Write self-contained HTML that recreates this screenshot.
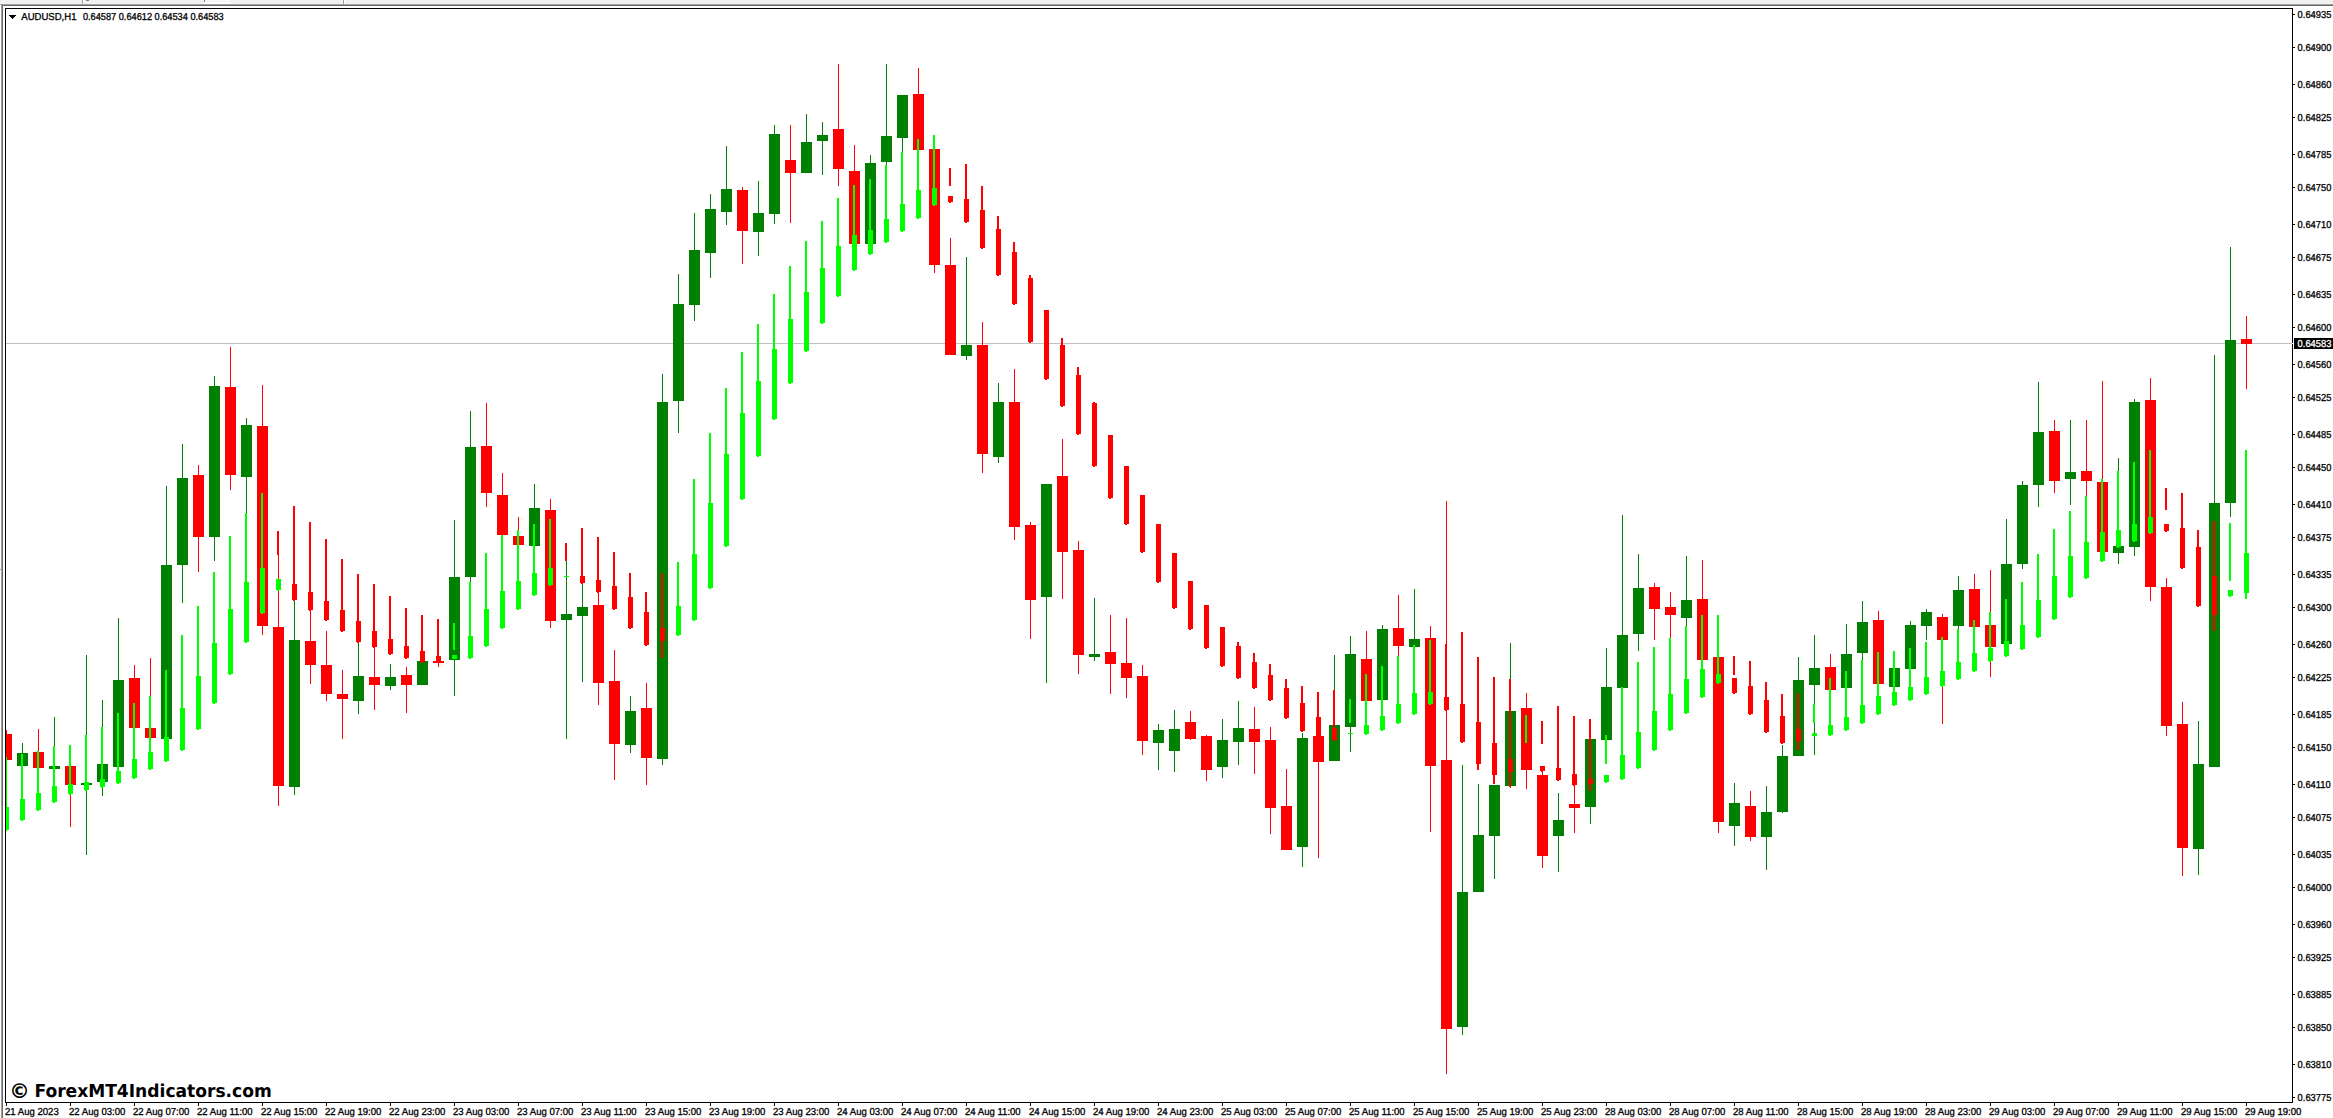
<!DOCTYPE html>
<html lang="en"><head><meta charset="utf-8"><title>AUDUSD,H1</title>
<style>html,body{margin:0;padding:0;background:#fff;overflow:hidden}body{width:2333px;height:1118px;position:relative}svg{position:absolute;left:0;top:0;display:block}text{font-family:"Liberation Sans",sans-serif;font-size:10.1px;fill:#000;stroke:#000;stroke-width:0.3px;text-rendering:geometricPrecision}.wm{font-family:"DejaVu Sans","Liberation Sans",sans-serif;font-weight:bold;font-size:17.8px;stroke:none}</style></head><body>
<svg width="2333" height="1118" viewBox="0 0 2333 1118" shape-rendering="crispEdges">
<rect x="0" y="0" width="2333" height="3" fill="#f0f0f0"/>
<rect x="0" y="3" width="2333" height="1" fill="#f5f5f5"/>
<rect x="0" y="4" width="2333" height="1" fill="#a0a0a0"/>
<rect x="2" y="5" width="2331" height="1" fill="#696969"/>
<rect x="1" y="4" width="1" height="1114" fill="#a0a0a0"/>
<rect x="2" y="5" width="1" height="1113" fill="#696969"/>
<rect x="82" y="0" width="1" height="4" fill="#a0a0a0"/>
<rect x="83" y="0" width="1" height="4" fill="#ffffff"/>
<rect x="343" y="0" width="1" height="4" fill="#a0a0a0"/>
<rect x="344" y="0" width="1" height="4" fill="#ffffff"/>
<rect x="86" y="0" width="3" height="1" fill="#808080"/>
<rect x="0" y="569" width="1" height="1" fill="#a0a0a0"/>
<rect x="204" y="0" width="1" height="2" fill="#808080"/>
<rect x="205" y="0" width="25" height="2" fill="#f8f8f8"/>
<rect x="204" y="2" width="26" height="2" fill="#fdfdfd"/>
<defs><clipPath id="cp"><rect x="6" y="9" width="2286" height="1093"/></clipPath></defs>
<g clip-path="url(#cp)">
<rect x="6" y="343" width="2286" height="1" fill="#c0c0c0"/>
<g id="candles">
<rect x="6" y="730" width="1" height="30" fill="#ff0000"/>
<rect x="1" y="734" width="11" height="26" fill="#ff0000"/>
<rect x="22" y="743" width="1" height="23" fill="#008000"/>
<rect x="17" y="753" width="11" height="13" fill="#008000"/>
<rect x="38" y="729" width="1" height="39" fill="#ff0000"/>
<rect x="33" y="752" width="11" height="16" fill="#ff0000"/>
<rect x="54" y="717" width="1" height="52" fill="#008000"/>
<rect x="49" y="766" width="11" height="3" fill="#008000"/>
<rect x="70" y="766" width="1" height="61" fill="#ff0000"/>
<rect x="65" y="766" width="11" height="19" fill="#ff0000"/>
<rect x="86" y="655" width="1" height="200" fill="#008000"/>
<rect x="81" y="783" width="11" height="2" fill="#008000"/>
<rect x="102" y="700" width="1" height="96" fill="#008000"/>
<rect x="97" y="764" width="11" height="18" fill="#008000"/>
<rect x="118" y="618" width="1" height="149" fill="#008000"/>
<rect x="113" y="680" width="11" height="87" fill="#008000"/>
<rect x="134" y="665" width="1" height="63" fill="#ff0000"/>
<rect x="129" y="678" width="11" height="50" fill="#ff0000"/>
<rect x="150" y="658" width="1" height="80" fill="#ff0000"/>
<rect x="145" y="728" width="11" height="10" fill="#ff0000"/>
<rect x="166" y="486" width="1" height="253" fill="#008000"/>
<rect x="161" y="565" width="11" height="174" fill="#008000"/>
<rect x="182" y="444" width="1" height="159" fill="#008000"/>
<rect x="177" y="478" width="11" height="87" fill="#008000"/>
<rect x="198" y="465" width="1" height="107" fill="#ff0000"/>
<rect x="193" y="475" width="11" height="62" fill="#ff0000"/>
<rect x="214" y="376" width="1" height="185" fill="#008000"/>
<rect x="209" y="386" width="11" height="151" fill="#008000"/>
<rect x="230" y="347" width="1" height="143" fill="#ff0000"/>
<rect x="225" y="387" width="11" height="88" fill="#ff0000"/>
<rect x="246" y="418" width="1" height="95" fill="#008000"/>
<rect x="241" y="425" width="11" height="52" fill="#008000"/>
<rect x="262" y="385" width="1" height="250" fill="#ff0000"/>
<rect x="257" y="426" width="11" height="200" fill="#ff0000"/>
<rect x="278" y="555" width="1" height="251" fill="#ff0000"/>
<rect x="273" y="627" width="11" height="159" fill="#ff0000"/>
<rect x="294" y="600" width="1" height="195" fill="#008000"/>
<rect x="289" y="640" width="11" height="147" fill="#008000"/>
<rect x="310" y="611" width="1" height="73" fill="#ff0000"/>
<rect x="305" y="641" width="11" height="24" fill="#ff0000"/>
<rect x="326" y="631" width="1" height="70" fill="#ff0000"/>
<rect x="321" y="665" width="11" height="29" fill="#ff0000"/>
<rect x="342" y="670" width="1" height="69" fill="#ff0000"/>
<rect x="337" y="694" width="11" height="5" fill="#ff0000"/>
<rect x="358" y="643" width="1" height="71" fill="#008000"/>
<rect x="353" y="676" width="11" height="25" fill="#008000"/>
<rect x="374" y="648" width="1" height="62" fill="#ff0000"/>
<rect x="369" y="677" width="11" height="8" fill="#ff0000"/>
<rect x="390" y="664" width="1" height="26" fill="#008000"/>
<rect x="385" y="677" width="11" height="9" fill="#008000"/>
<rect x="406" y="667" width="1" height="46" fill="#ff0000"/>
<rect x="401" y="675" width="11" height="10" fill="#ff0000"/>
<rect x="422" y="661" width="1" height="24" fill="#008000"/>
<rect x="417" y="661" width="11" height="24" fill="#008000"/>
<rect x="438" y="661" width="1" height="6" fill="#ff0000"/>
<rect x="433" y="661" width="11" height="2" fill="#ff0000"/>
<rect x="454" y="520" width="1" height="176" fill="#008000"/>
<rect x="449" y="577" width="11" height="83" fill="#008000"/>
<rect x="470" y="411" width="1" height="171" fill="#008000"/>
<rect x="465" y="447" width="11" height="130" fill="#008000"/>
<rect x="486" y="403" width="1" height="104" fill="#ff0000"/>
<rect x="481" y="446" width="11" height="47" fill="#ff0000"/>
<rect x="502" y="473" width="1" height="62" fill="#ff0000"/>
<rect x="497" y="495" width="11" height="40" fill="#ff0000"/>
<rect x="518" y="517" width="1" height="28" fill="#ff0000"/>
<rect x="513" y="536" width="11" height="9" fill="#ff0000"/>
<rect x="534" y="484" width="1" height="62" fill="#008000"/>
<rect x="529" y="508" width="11" height="38" fill="#008000"/>
<rect x="550" y="499" width="1" height="129" fill="#ff0000"/>
<rect x="545" y="510" width="11" height="111" fill="#ff0000"/>
<rect x="566" y="561" width="1" height="178" fill="#008000"/>
<rect x="561" y="614" width="11" height="6" fill="#008000"/>
<rect x="582" y="584" width="1" height="98" fill="#008000"/>
<rect x="577" y="607" width="11" height="9" fill="#008000"/>
<rect x="598" y="593" width="1" height="112" fill="#ff0000"/>
<rect x="593" y="605" width="11" height="78" fill="#ff0000"/>
<rect x="614" y="650" width="1" height="130" fill="#ff0000"/>
<rect x="609" y="681" width="11" height="63" fill="#ff0000"/>
<rect x="630" y="696" width="1" height="57" fill="#008000"/>
<rect x="625" y="711" width="11" height="34" fill="#008000"/>
<rect x="646" y="683" width="1" height="102" fill="#ff0000"/>
<rect x="641" y="708" width="11" height="50" fill="#ff0000"/>
<rect x="662" y="374" width="1" height="391" fill="#008000"/>
<rect x="657" y="402" width="11" height="357" fill="#008000"/>
<rect x="678" y="274" width="1" height="159" fill="#008000"/>
<rect x="673" y="304" width="11" height="97" fill="#008000"/>
<rect x="694" y="213" width="1" height="108" fill="#008000"/>
<rect x="689" y="250" width="11" height="55" fill="#008000"/>
<rect x="710" y="194" width="1" height="84" fill="#008000"/>
<rect x="705" y="209" width="11" height="44" fill="#008000"/>
<rect x="726" y="146" width="1" height="79" fill="#008000"/>
<rect x="721" y="189" width="11" height="23" fill="#008000"/>
<rect x="742" y="187" width="1" height="77" fill="#ff0000"/>
<rect x="737" y="190" width="11" height="41" fill="#ff0000"/>
<rect x="758" y="181" width="1" height="75" fill="#008000"/>
<rect x="753" y="213" width="11" height="19" fill="#008000"/>
<rect x="774" y="125" width="1" height="99" fill="#008000"/>
<rect x="769" y="134" width="11" height="80" fill="#008000"/>
<rect x="790" y="125" width="1" height="98" fill="#ff0000"/>
<rect x="785" y="160" width="11" height="13" fill="#ff0000"/>
<rect x="806" y="114" width="1" height="59" fill="#008000"/>
<rect x="801" y="142" width="11" height="31" fill="#008000"/>
<rect x="822" y="122" width="1" height="53" fill="#008000"/>
<rect x="817" y="135" width="11" height="6" fill="#008000"/>
<rect x="838" y="64" width="1" height="122" fill="#ff0000"/>
<rect x="833" y="129" width="11" height="40" fill="#ff0000"/>
<rect x="854" y="145" width="1" height="99" fill="#ff0000"/>
<rect x="849" y="171" width="11" height="73" fill="#ff0000"/>
<rect x="870" y="155" width="1" height="89" fill="#008000"/>
<rect x="865" y="163" width="11" height="81" fill="#008000"/>
<rect x="886" y="64" width="1" height="101" fill="#008000"/>
<rect x="881" y="136" width="11" height="26" fill="#008000"/>
<rect x="902" y="95" width="1" height="57" fill="#008000"/>
<rect x="897" y="95" width="11" height="43" fill="#008000"/>
<rect x="918" y="68" width="1" height="82" fill="#ff0000"/>
<rect x="913" y="94" width="11" height="56" fill="#ff0000"/>
<rect x="934" y="149" width="1" height="124" fill="#ff0000"/>
<rect x="929" y="149" width="11" height="116" fill="#ff0000"/>
<rect x="950" y="238" width="1" height="117" fill="#ff0000"/>
<rect x="945" y="265" width="11" height="90" fill="#ff0000"/>
<rect x="966" y="257" width="1" height="103" fill="#008000"/>
<rect x="961" y="345" width="11" height="11" fill="#008000"/>
<rect x="982" y="322" width="1" height="151" fill="#ff0000"/>
<rect x="977" y="345" width="11" height="109" fill="#ff0000"/>
<rect x="998" y="383" width="1" height="80" fill="#008000"/>
<rect x="993" y="402" width="11" height="55" fill="#008000"/>
<rect x="1014" y="369" width="1" height="171" fill="#ff0000"/>
<rect x="1009" y="402" width="11" height="125" fill="#ff0000"/>
<rect x="1030" y="522" width="1" height="117" fill="#ff0000"/>
<rect x="1025" y="525" width="11" height="75" fill="#ff0000"/>
<rect x="1046" y="484" width="1" height="199" fill="#008000"/>
<rect x="1041" y="484" width="11" height="113" fill="#008000"/>
<rect x="1062" y="439" width="1" height="160" fill="#ff0000"/>
<rect x="1057" y="476" width="11" height="76" fill="#ff0000"/>
<rect x="1078" y="541" width="1" height="133" fill="#ff0000"/>
<rect x="1073" y="550" width="11" height="105" fill="#ff0000"/>
<rect x="1094" y="598" width="1" height="63" fill="#008000"/>
<rect x="1089" y="654" width="11" height="3" fill="#008000"/>
<rect x="1110" y="615" width="1" height="79" fill="#ff0000"/>
<rect x="1105" y="652" width="11" height="12" fill="#ff0000"/>
<rect x="1126" y="618" width="1" height="80" fill="#ff0000"/>
<rect x="1121" y="663" width="11" height="15" fill="#ff0000"/>
<rect x="1142" y="665" width="1" height="90" fill="#ff0000"/>
<rect x="1137" y="676" width="11" height="65" fill="#ff0000"/>
<rect x="1158" y="724" width="1" height="46" fill="#008000"/>
<rect x="1153" y="730" width="11" height="13" fill="#008000"/>
<rect x="1174" y="710" width="1" height="62" fill="#008000"/>
<rect x="1169" y="729" width="11" height="22" fill="#008000"/>
<rect x="1190" y="711" width="1" height="29" fill="#ff0000"/>
<rect x="1185" y="722" width="11" height="17" fill="#ff0000"/>
<rect x="1206" y="735" width="1" height="46" fill="#ff0000"/>
<rect x="1201" y="736" width="11" height="34" fill="#ff0000"/>
<rect x="1222" y="719" width="1" height="59" fill="#008000"/>
<rect x="1217" y="740" width="11" height="27" fill="#008000"/>
<rect x="1238" y="701" width="1" height="64" fill="#008000"/>
<rect x="1233" y="728" width="11" height="14" fill="#008000"/>
<rect x="1254" y="707" width="1" height="67" fill="#ff0000"/>
<rect x="1249" y="729" width="11" height="13" fill="#ff0000"/>
<rect x="1270" y="727" width="1" height="107" fill="#ff0000"/>
<rect x="1265" y="740" width="11" height="68" fill="#ff0000"/>
<rect x="1286" y="769" width="1" height="81" fill="#ff0000"/>
<rect x="1281" y="806" width="11" height="44" fill="#ff0000"/>
<rect x="1302" y="733" width="1" height="134" fill="#008000"/>
<rect x="1297" y="738" width="11" height="109" fill="#008000"/>
<rect x="1318" y="736" width="1" height="122" fill="#ff0000"/>
<rect x="1313" y="736" width="11" height="26" fill="#ff0000"/>
<rect x="1334" y="655" width="1" height="106" fill="#008000"/>
<rect x="1329" y="725" width="11" height="36" fill="#008000"/>
<rect x="1350" y="636" width="1" height="116" fill="#008000"/>
<rect x="1345" y="654" width="11" height="73" fill="#008000"/>
<rect x="1366" y="631" width="1" height="70" fill="#ff0000"/>
<rect x="1361" y="659" width="11" height="42" fill="#ff0000"/>
<rect x="1382" y="625" width="1" height="75" fill="#008000"/>
<rect x="1377" y="629" width="11" height="71" fill="#008000"/>
<rect x="1398" y="595" width="1" height="61" fill="#ff0000"/>
<rect x="1393" y="628" width="11" height="18" fill="#ff0000"/>
<rect x="1414" y="589" width="1" height="58" fill="#008000"/>
<rect x="1409" y="639" width="11" height="8" fill="#008000"/>
<rect x="1430" y="626" width="1" height="206" fill="#ff0000"/>
<rect x="1425" y="638" width="11" height="128" fill="#ff0000"/>
<rect x="1446" y="501" width="1" height="573" fill="#ff0000"/>
<rect x="1441" y="760" width="11" height="269" fill="#ff0000"/>
<rect x="1462" y="765" width="1" height="270" fill="#008000"/>
<rect x="1457" y="892" width="11" height="135" fill="#008000"/>
<rect x="1478" y="784" width="1" height="108" fill="#008000"/>
<rect x="1473" y="835" width="11" height="57" fill="#008000"/>
<rect x="1494" y="785" width="1" height="94" fill="#008000"/>
<rect x="1489" y="785" width="11" height="51" fill="#008000"/>
<rect x="1510" y="643" width="1" height="145" fill="#008000"/>
<rect x="1505" y="711" width="11" height="75" fill="#008000"/>
<rect x="1526" y="693" width="1" height="96" fill="#ff0000"/>
<rect x="1521" y="708" width="11" height="62" fill="#ff0000"/>
<rect x="1542" y="772" width="1" height="96" fill="#ff0000"/>
<rect x="1537" y="775" width="11" height="81" fill="#ff0000"/>
<rect x="1558" y="793" width="1" height="79" fill="#008000"/>
<rect x="1553" y="820" width="11" height="16" fill="#008000"/>
<rect x="1574" y="786" width="1" height="47" fill="#ff0000"/>
<rect x="1569" y="804" width="11" height="4" fill="#ff0000"/>
<rect x="1590" y="739" width="1" height="85" fill="#008000"/>
<rect x="1585" y="739" width="11" height="68" fill="#008000"/>
<rect x="1606" y="648" width="1" height="92" fill="#008000"/>
<rect x="1601" y="687" width="11" height="53" fill="#008000"/>
<rect x="1622" y="515" width="1" height="173" fill="#008000"/>
<rect x="1617" y="635" width="11" height="53" fill="#008000"/>
<rect x="1638" y="554" width="1" height="97" fill="#008000"/>
<rect x="1633" y="588" width="11" height="46" fill="#008000"/>
<rect x="1654" y="583" width="1" height="57" fill="#ff0000"/>
<rect x="1649" y="587" width="11" height="22" fill="#ff0000"/>
<rect x="1670" y="592" width="1" height="46" fill="#ff0000"/>
<rect x="1665" y="607" width="11" height="8" fill="#ff0000"/>
<rect x="1686" y="556" width="1" height="70" fill="#008000"/>
<rect x="1681" y="600" width="11" height="18" fill="#008000"/>
<rect x="1702" y="560" width="1" height="100" fill="#ff0000"/>
<rect x="1697" y="599" width="11" height="61" fill="#ff0000"/>
<rect x="1718" y="657" width="1" height="176" fill="#ff0000"/>
<rect x="1713" y="657" width="11" height="165" fill="#ff0000"/>
<rect x="1734" y="783" width="1" height="63" fill="#008000"/>
<rect x="1729" y="803" width="11" height="23" fill="#008000"/>
<rect x="1750" y="791" width="1" height="50" fill="#ff0000"/>
<rect x="1745" y="806" width="11" height="31" fill="#ff0000"/>
<rect x="1766" y="786" width="1" height="84" fill="#008000"/>
<rect x="1761" y="812" width="11" height="25" fill="#008000"/>
<rect x="1782" y="745" width="1" height="68" fill="#008000"/>
<rect x="1777" y="756" width="11" height="56" fill="#008000"/>
<rect x="1798" y="657" width="1" height="99" fill="#008000"/>
<rect x="1793" y="680" width="11" height="76" fill="#008000"/>
<rect x="1814" y="635" width="1" height="120" fill="#008000"/>
<rect x="1809" y="668" width="11" height="17" fill="#008000"/>
<rect x="1830" y="654" width="1" height="36" fill="#ff0000"/>
<rect x="1825" y="667" width="11" height="23" fill="#ff0000"/>
<rect x="1846" y="624" width="1" height="64" fill="#008000"/>
<rect x="1841" y="654" width="11" height="34" fill="#008000"/>
<rect x="1862" y="601" width="1" height="59" fill="#008000"/>
<rect x="1857" y="622" width="11" height="31" fill="#008000"/>
<rect x="1878" y="611" width="1" height="73" fill="#ff0000"/>
<rect x="1873" y="620" width="11" height="64" fill="#ff0000"/>
<rect x="1894" y="668" width="1" height="19" fill="#008000"/>
<rect x="1889" y="668" width="11" height="19" fill="#008000"/>
<rect x="1910" y="621" width="1" height="48" fill="#008000"/>
<rect x="1905" y="625" width="11" height="44" fill="#008000"/>
<rect x="1926" y="609" width="1" height="31" fill="#008000"/>
<rect x="1921" y="612" width="11" height="14" fill="#008000"/>
<rect x="1942" y="614" width="1" height="110" fill="#ff0000"/>
<rect x="1937" y="617" width="11" height="23" fill="#ff0000"/>
<rect x="1958" y="576" width="1" height="53" fill="#008000"/>
<rect x="1953" y="590" width="11" height="36" fill="#008000"/>
<rect x="1974" y="574" width="1" height="53" fill="#ff0000"/>
<rect x="1969" y="589" width="11" height="38" fill="#ff0000"/>
<rect x="1990" y="570" width="1" height="107" fill="#ff0000"/>
<rect x="1985" y="625" width="11" height="22" fill="#ff0000"/>
<rect x="2006" y="519" width="1" height="125" fill="#008000"/>
<rect x="2001" y="564" width="11" height="80" fill="#008000"/>
<rect x="2022" y="481" width="1" height="88" fill="#008000"/>
<rect x="2017" y="485" width="11" height="79" fill="#008000"/>
<rect x="2038" y="382" width="1" height="125" fill="#008000"/>
<rect x="2033" y="432" width="11" height="53" fill="#008000"/>
<rect x="2054" y="420" width="1" height="73" fill="#ff0000"/>
<rect x="2049" y="431" width="11" height="50" fill="#ff0000"/>
<rect x="2070" y="420" width="1" height="85" fill="#008000"/>
<rect x="2065" y="472" width="11" height="7" fill="#008000"/>
<rect x="2086" y="420" width="1" height="76" fill="#ff0000"/>
<rect x="2081" y="471" width="11" height="10" fill="#ff0000"/>
<rect x="2102" y="381" width="1" height="171" fill="#ff0000"/>
<rect x="2097" y="482" width="11" height="70" fill="#ff0000"/>
<rect x="2118" y="458" width="1" height="106" fill="#008000"/>
<rect x="2113" y="546" width="11" height="7" fill="#008000"/>
<rect x="2134" y="399" width="1" height="157" fill="#008000"/>
<rect x="2129" y="402" width="11" height="145" fill="#008000"/>
<rect x="2150" y="378" width="1" height="223" fill="#ff0000"/>
<rect x="2145" y="400" width="11" height="187" fill="#ff0000"/>
<rect x="2166" y="578" width="1" height="158" fill="#ff0000"/>
<rect x="2161" y="587" width="11" height="139" fill="#ff0000"/>
<rect x="2182" y="702" width="1" height="174" fill="#ff0000"/>
<rect x="2177" y="724" width="11" height="124" fill="#ff0000"/>
<rect x="2198" y="721" width="1" height="154" fill="#008000"/>
<rect x="2193" y="764" width="11" height="85" fill="#008000"/>
<rect x="2214" y="355" width="1" height="412" fill="#008000"/>
<rect x="2209" y="503" width="11" height="264" fill="#008000"/>
<rect x="2230" y="247" width="1" height="270" fill="#008000"/>
<rect x="2225" y="340" width="11" height="163" fill="#008000"/>
<rect x="2246" y="316" width="1" height="73" fill="#ff0000"/>
<rect x="2241" y="339" width="11" height="5" fill="#ff0000"/>
</g>
<g id="ind">
<rect x="5" y="757" width="2" height="50" fill="#00ff00"/>
<rect x="4" y="807" width="5" height="23" fill="#00ff00"/>
<rect x="5" y="830" width="2" height="1" fill="#00ff00"/>
<rect x="21" y="754" width="2" height="45" fill="#00ff00"/>
<rect x="20" y="799" width="5" height="21" fill="#00ff00"/>
<rect x="21" y="820" width="2" height="1" fill="#00ff00"/>
<rect x="37" y="751" width="2" height="42" fill="#00ff00"/>
<rect x="36" y="793" width="5" height="17" fill="#00ff00"/>
<rect x="37" y="810" width="2" height="1" fill="#00ff00"/>
<rect x="53" y="746" width="2" height="40" fill="#00ff00"/>
<rect x="52" y="786" width="5" height="16" fill="#00ff00"/>
<rect x="53" y="802" width="2" height="1" fill="#00ff00"/>
<rect x="69" y="745" width="2" height="39" fill="#00ff00"/>
<rect x="68" y="784" width="5" height="10" fill="#00ff00"/>
<rect x="69" y="794" width="2" height="1" fill="#00ff00"/>
<rect x="85" y="735" width="2" height="47" fill="#00ff00"/>
<rect x="84" y="782" width="5" height="8" fill="#00ff00"/>
<rect x="85" y="790" width="2" height="1" fill="#00ff00"/>
<rect x="101" y="727" width="2" height="52" fill="#00ff00"/>
<rect x="100" y="779" width="5" height="8" fill="#00ff00"/>
<rect x="101" y="787" width="2" height="1" fill="#00ff00"/>
<rect x="117" y="713" width="2" height="58" fill="#00ff00"/>
<rect x="116" y="771" width="5" height="12" fill="#00ff00"/>
<rect x="117" y="783" width="2" height="1" fill="#00ff00"/>
<rect x="133" y="703" width="2" height="56" fill="#00ff00"/>
<rect x="132" y="759" width="5" height="19" fill="#00ff00"/>
<rect x="133" y="778" width="2" height="1" fill="#00ff00"/>
<rect x="149" y="696" width="2" height="56" fill="#00ff00"/>
<rect x="148" y="752" width="5" height="17" fill="#00ff00"/>
<rect x="149" y="769" width="2" height="1" fill="#00ff00"/>
<rect x="165" y="670" width="2" height="67" fill="#00ff00"/>
<rect x="164" y="737" width="5" height="24" fill="#00ff00"/>
<rect x="165" y="761" width="2" height="1" fill="#00ff00"/>
<rect x="181" y="635" width="2" height="73" fill="#00ff00"/>
<rect x="180" y="708" width="5" height="42" fill="#00ff00"/>
<rect x="181" y="750" width="2" height="1" fill="#00ff00"/>
<rect x="197" y="606" width="2" height="70" fill="#00ff00"/>
<rect x="196" y="676" width="5" height="53" fill="#00ff00"/>
<rect x="197" y="729" width="2" height="1" fill="#00ff00"/>
<rect x="213" y="572" width="2" height="71" fill="#00ff00"/>
<rect x="212" y="643" width="5" height="60" fill="#00ff00"/>
<rect x="213" y="703" width="2" height="1" fill="#00ff00"/>
<rect x="229" y="536" width="2" height="73" fill="#00ff00"/>
<rect x="228" y="609" width="5" height="65" fill="#00ff00"/>
<rect x="229" y="674" width="2" height="1" fill="#00ff00"/>
<rect x="245" y="513" width="2" height="69" fill="#00ff00"/>
<rect x="244" y="582" width="5" height="60" fill="#00ff00"/>
<rect x="245" y="642" width="2" height="1" fill="#00ff00"/>
<rect x="261" y="493" width="2" height="75" fill="#00ff00"/>
<rect x="260" y="568" width="5" height="45" fill="#00ff00"/>
<rect x="261" y="613" width="2" height="1" fill="#00ff00"/>
<rect x="277" y="531" width="2" height="24" fill="#ff0000"/>
<rect x="276" y="579" width="5" height="11" fill="#00ff00"/>
<rect x="277" y="590" width="2" height="1" fill="#00ff00"/>
<rect x="293" y="506" width="2" height="78" fill="#ff0000"/>
<rect x="292" y="584" width="5" height="16" fill="#ff0000"/>
<rect x="293" y="600" width="2" height="1" fill="#ff0000"/>
<rect x="309" y="522" width="2" height="70" fill="#ff0000"/>
<rect x="308" y="592" width="5" height="18" fill="#ff0000"/>
<rect x="309" y="610" width="2" height="1" fill="#ff0000"/>
<rect x="325" y="539" width="2" height="62" fill="#ff0000"/>
<rect x="324" y="601" width="5" height="19" fill="#ff0000"/>
<rect x="325" y="620" width="2" height="1" fill="#ff0000"/>
<rect x="341" y="559" width="2" height="51" fill="#ff0000"/>
<rect x="340" y="610" width="5" height="21" fill="#ff0000"/>
<rect x="341" y="631" width="2" height="1" fill="#ff0000"/>
<rect x="357" y="574" width="2" height="47" fill="#ff0000"/>
<rect x="356" y="621" width="5" height="21" fill="#ff0000"/>
<rect x="357" y="642" width="2" height="1" fill="#ff0000"/>
<rect x="373" y="584" width="2" height="47" fill="#ff0000"/>
<rect x="372" y="631" width="5" height="16" fill="#ff0000"/>
<rect x="373" y="647" width="2" height="1" fill="#ff0000"/>
<rect x="389" y="596" width="2" height="43" fill="#ff0000"/>
<rect x="388" y="639" width="5" height="15" fill="#ff0000"/>
<rect x="389" y="654" width="2" height="1" fill="#ff0000"/>
<rect x="405" y="608" width="2" height="38" fill="#ff0000"/>
<rect x="404" y="646" width="5" height="12" fill="#ff0000"/>
<rect x="405" y="658" width="2" height="1" fill="#ff0000"/>
<rect x="421" y="615" width="2" height="36" fill="#ff0000"/>
<rect x="420" y="651" width="5" height="11" fill="#ff0000"/>
<rect x="421" y="662" width="2" height="1" fill="#ff0000"/>
<rect x="437" y="619" width="2" height="37" fill="#ff0000"/>
<rect x="436" y="656" width="5" height="5" fill="#ff0000"/>
<rect x="453" y="623" width="2" height="27" fill="#00ff00"/>
<rect x="452" y="655" width="5" height="4" fill="#00ff00"/>
<rect x="469" y="582" width="2" height="54" fill="#00ff00"/>
<rect x="468" y="636" width="5" height="22" fill="#00ff00"/>
<rect x="469" y="658" width="2" height="1" fill="#00ff00"/>
<rect x="485" y="553" width="2" height="56" fill="#00ff00"/>
<rect x="484" y="609" width="5" height="37" fill="#00ff00"/>
<rect x="485" y="646" width="2" height="1" fill="#00ff00"/>
<rect x="501" y="535" width="2" height="56" fill="#00ff00"/>
<rect x="500" y="591" width="5" height="37" fill="#00ff00"/>
<rect x="501" y="628" width="2" height="1" fill="#00ff00"/>
<rect x="517" y="530" width="2" height="51" fill="#00ff00"/>
<rect x="516" y="581" width="5" height="28" fill="#00ff00"/>
<rect x="517" y="609" width="2" height="1" fill="#00ff00"/>
<rect x="533" y="524" width="2" height="49" fill="#00ff00"/>
<rect x="532" y="573" width="5" height="22" fill="#00ff00"/>
<rect x="533" y="595" width="2" height="1" fill="#00ff00"/>
<rect x="549" y="519" width="2" height="49" fill="#00ff00"/>
<rect x="548" y="568" width="5" height="17" fill="#00ff00"/>
<rect x="549" y="585" width="2" height="1" fill="#00ff00"/>
<rect x="565" y="543" width="2" height="18" fill="#ff0000"/>
<rect x="564" y="576" width="5" height="1" fill="#00ff00"/>
<rect x="581" y="528" width="2" height="48" fill="#ff0000"/>
<rect x="580" y="576" width="5" height="7" fill="#ff0000"/>
<rect x="581" y="583" width="2" height="1" fill="#ff0000"/>
<rect x="597" y="537" width="2" height="43" fill="#ff0000"/>
<rect x="596" y="580" width="5" height="12" fill="#ff0000"/>
<rect x="597" y="592" width="2" height="1" fill="#ff0000"/>
<rect x="613" y="552" width="2" height="34" fill="#ff0000"/>
<rect x="612" y="586" width="5" height="23" fill="#ff0000"/>
<rect x="613" y="609" width="2" height="1" fill="#ff0000"/>
<rect x="629" y="573" width="2" height="24" fill="#ff0000"/>
<rect x="628" y="597" width="5" height="31" fill="#ff0000"/>
<rect x="629" y="628" width="2" height="1" fill="#ff0000"/>
<rect x="645" y="592" width="2" height="20" fill="#ff0000"/>
<rect x="644" y="612" width="5" height="33" fill="#ff0000"/>
<rect x="645" y="645" width="2" height="1" fill="#ff0000"/>
<rect x="661" y="573" width="2" height="85" fill="#ff0000"/>
<rect x="660" y="628" width="5" height="13" fill="#ff0000"/>
<rect x="661" y="641" width="2" height="1" fill="#ff0000"/>
<rect x="677" y="562" width="2" height="44" fill="#00ff00"/>
<rect x="676" y="606" width="5" height="29" fill="#00ff00"/>
<rect x="677" y="635" width="2" height="1" fill="#00ff00"/>
<rect x="693" y="479" width="2" height="75" fill="#00ff00"/>
<rect x="692" y="554" width="5" height="66" fill="#00ff00"/>
<rect x="693" y="620" width="2" height="1" fill="#00ff00"/>
<rect x="709" y="433" width="2" height="70" fill="#00ff00"/>
<rect x="708" y="503" width="5" height="85" fill="#00ff00"/>
<rect x="709" y="588" width="2" height="1" fill="#00ff00"/>
<rect x="725" y="388" width="2" height="66" fill="#00ff00"/>
<rect x="724" y="454" width="5" height="92" fill="#00ff00"/>
<rect x="725" y="546" width="2" height="1" fill="#00ff00"/>
<rect x="741" y="352" width="2" height="61" fill="#00ff00"/>
<rect x="740" y="413" width="5" height="86" fill="#00ff00"/>
<rect x="741" y="499" width="2" height="1" fill="#00ff00"/>
<rect x="757" y="324" width="2" height="57" fill="#00ff00"/>
<rect x="756" y="381" width="5" height="75" fill="#00ff00"/>
<rect x="757" y="456" width="2" height="1" fill="#00ff00"/>
<rect x="773" y="294" width="2" height="55" fill="#00ff00"/>
<rect x="772" y="349" width="5" height="70" fill="#00ff00"/>
<rect x="773" y="419" width="2" height="1" fill="#00ff00"/>
<rect x="789" y="266" width="2" height="53" fill="#00ff00"/>
<rect x="788" y="319" width="5" height="64" fill="#00ff00"/>
<rect x="789" y="383" width="2" height="1" fill="#00ff00"/>
<rect x="805" y="241" width="2" height="51" fill="#00ff00"/>
<rect x="804" y="292" width="5" height="59" fill="#00ff00"/>
<rect x="805" y="351" width="2" height="1" fill="#00ff00"/>
<rect x="821" y="221" width="2" height="47" fill="#00ff00"/>
<rect x="820" y="268" width="5" height="55" fill="#00ff00"/>
<rect x="821" y="323" width="2" height="1" fill="#00ff00"/>
<rect x="837" y="198" width="2" height="48" fill="#00ff00"/>
<rect x="836" y="246" width="5" height="50" fill="#00ff00"/>
<rect x="837" y="296" width="2" height="1" fill="#00ff00"/>
<rect x="853" y="185" width="2" height="50" fill="#00ff00"/>
<rect x="852" y="235" width="5" height="35" fill="#00ff00"/>
<rect x="853" y="270" width="2" height="1" fill="#00ff00"/>
<rect x="869" y="179" width="2" height="51" fill="#00ff00"/>
<rect x="868" y="230" width="5" height="24" fill="#00ff00"/>
<rect x="869" y="254" width="2" height="1" fill="#00ff00"/>
<rect x="885" y="165" width="2" height="54" fill="#00ff00"/>
<rect x="884" y="219" width="5" height="23" fill="#00ff00"/>
<rect x="885" y="242" width="2" height="1" fill="#00ff00"/>
<rect x="901" y="152" width="2" height="52" fill="#00ff00"/>
<rect x="900" y="204" width="5" height="27" fill="#00ff00"/>
<rect x="901" y="231" width="2" height="1" fill="#00ff00"/>
<rect x="917" y="139" width="2" height="51" fill="#00ff00"/>
<rect x="916" y="190" width="5" height="28" fill="#00ff00"/>
<rect x="917" y="218" width="2" height="1" fill="#00ff00"/>
<rect x="933" y="135" width="2" height="53" fill="#00ff00"/>
<rect x="932" y="188" width="5" height="17" fill="#00ff00"/>
<rect x="933" y="205" width="2" height="1" fill="#00ff00"/>
<rect x="949" y="168" width="2" height="18" fill="#ff0000"/>
<rect x="948" y="196" width="5" height="6" fill="#ff0000"/>
<rect x="949" y="202" width="2" height="1" fill="#ff0000"/>
<rect x="965" y="164" width="2" height="35" fill="#ff0000"/>
<rect x="964" y="199" width="5" height="23" fill="#ff0000"/>
<rect x="965" y="222" width="2" height="1" fill="#ff0000"/>
<rect x="981" y="186" width="2" height="24" fill="#ff0000"/>
<rect x="980" y="210" width="5" height="38" fill="#ff0000"/>
<rect x="981" y="248" width="2" height="1" fill="#ff0000"/>
<rect x="997" y="216" width="2" height="13" fill="#ff0000"/>
<rect x="996" y="229" width="5" height="46" fill="#ff0000"/>
<rect x="997" y="275" width="2" height="1" fill="#ff0000"/>
<rect x="1013" y="242" width="2" height="10" fill="#ff0000"/>
<rect x="1012" y="252" width="5" height="52" fill="#ff0000"/>
<rect x="1013" y="304" width="2" height="1" fill="#ff0000"/>
<rect x="1029" y="275" width="2" height="3" fill="#ff0000"/>
<rect x="1028" y="278" width="5" height="64" fill="#ff0000"/>
<rect x="1029" y="342" width="2" height="1" fill="#ff0000"/>
<rect x="1044" y="310" width="5" height="69" fill="#ff0000"/>
<rect x="1045" y="379" width="2" height="1" fill="#ff0000"/>
<rect x="1061" y="338" width="2" height="7" fill="#ff0000"/>
<rect x="1060" y="345" width="5" height="61" fill="#ff0000"/>
<rect x="1061" y="406" width="2" height="1" fill="#ff0000"/>
<rect x="1077" y="367" width="2" height="8" fill="#ff0000"/>
<rect x="1076" y="375" width="5" height="59" fill="#ff0000"/>
<rect x="1077" y="434" width="2" height="1" fill="#ff0000"/>
<rect x="1093" y="402" width="2" height="1" fill="#ff0000"/>
<rect x="1092" y="403" width="5" height="63" fill="#ff0000"/>
<rect x="1093" y="466" width="2" height="1" fill="#ff0000"/>
<rect x="1108" y="435" width="5" height="63" fill="#ff0000"/>
<rect x="1109" y="498" width="2" height="1" fill="#ff0000"/>
<rect x="1124" y="466" width="5" height="58" fill="#ff0000"/>
<rect x="1125" y="524" width="2" height="1" fill="#ff0000"/>
<rect x="1140" y="495" width="5" height="57" fill="#ff0000"/>
<rect x="1141" y="552" width="2" height="1" fill="#ff0000"/>
<rect x="1156" y="524" width="5" height="58" fill="#ff0000"/>
<rect x="1157" y="582" width="2" height="1" fill="#ff0000"/>
<rect x="1172" y="553" width="5" height="55" fill="#ff0000"/>
<rect x="1173" y="608" width="2" height="1" fill="#ff0000"/>
<rect x="1188" y="581" width="5" height="48" fill="#ff0000"/>
<rect x="1189" y="629" width="2" height="1" fill="#ff0000"/>
<rect x="1204" y="605" width="5" height="43" fill="#ff0000"/>
<rect x="1205" y="648" width="2" height="1" fill="#ff0000"/>
<rect x="1220" y="627" width="5" height="39" fill="#ff0000"/>
<rect x="1221" y="666" width="2" height="1" fill="#ff0000"/>
<rect x="1237" y="642" width="2" height="4" fill="#ff0000"/>
<rect x="1236" y="646" width="5" height="32" fill="#ff0000"/>
<rect x="1237" y="678" width="2" height="1" fill="#ff0000"/>
<rect x="1253" y="653" width="2" height="9" fill="#ff0000"/>
<rect x="1252" y="662" width="5" height="26" fill="#ff0000"/>
<rect x="1253" y="688" width="2" height="1" fill="#ff0000"/>
<rect x="1269" y="664" width="2" height="11" fill="#ff0000"/>
<rect x="1268" y="675" width="5" height="25" fill="#ff0000"/>
<rect x="1269" y="700" width="2" height="1" fill="#ff0000"/>
<rect x="1285" y="679" width="2" height="9" fill="#ff0000"/>
<rect x="1284" y="688" width="5" height="30" fill="#ff0000"/>
<rect x="1285" y="718" width="2" height="1" fill="#ff0000"/>
<rect x="1301" y="686" width="2" height="17" fill="#ff0000"/>
<rect x="1300" y="703" width="5" height="28" fill="#ff0000"/>
<rect x="1301" y="731" width="2" height="1" fill="#ff0000"/>
<rect x="1317" y="692" width="2" height="25" fill="#ff0000"/>
<rect x="1316" y="717" width="5" height="21" fill="#ff0000"/>
<rect x="1317" y="738" width="2" height="1" fill="#ff0000"/>
<rect x="1333" y="690" width="2" height="38" fill="#ff0000"/>
<rect x="1332" y="728" width="5" height="12" fill="#ff0000"/>
<rect x="1333" y="740" width="2" height="1" fill="#ff0000"/>
<rect x="1349" y="699" width="2" height="24" fill="#00ff00"/>
<rect x="1348" y="733" width="5" height="1" fill="#00ff00"/>
<rect x="1365" y="674" width="2" height="51" fill="#00ff00"/>
<rect x="1364" y="725" width="5" height="9" fill="#00ff00"/>
<rect x="1365" y="734" width="2" height="1" fill="#00ff00"/>
<rect x="1381" y="666" width="2" height="50" fill="#00ff00"/>
<rect x="1380" y="716" width="5" height="14" fill="#00ff00"/>
<rect x="1381" y="730" width="2" height="1" fill="#00ff00"/>
<rect x="1397" y="656" width="2" height="48" fill="#00ff00"/>
<rect x="1396" y="704" width="5" height="19" fill="#00ff00"/>
<rect x="1397" y="723" width="2" height="1" fill="#00ff00"/>
<rect x="1413" y="645" width="2" height="48" fill="#00ff00"/>
<rect x="1412" y="693" width="5" height="21" fill="#00ff00"/>
<rect x="1413" y="714" width="2" height="1" fill="#00ff00"/>
<rect x="1429" y="640" width="2" height="52" fill="#00ff00"/>
<rect x="1428" y="692" width="5" height="12" fill="#00ff00"/>
<rect x="1429" y="704" width="2" height="1" fill="#00ff00"/>
<rect x="1445" y="644" width="2" height="53" fill="#ff0000"/>
<rect x="1444" y="697" width="5" height="13" fill="#ff0000"/>
<rect x="1445" y="710" width="2" height="1" fill="#ff0000"/>
<rect x="1461" y="632" width="2" height="72" fill="#ff0000"/>
<rect x="1460" y="704" width="5" height="38" fill="#ff0000"/>
<rect x="1461" y="742" width="2" height="1" fill="#ff0000"/>
<rect x="1477" y="657" width="2" height="113" fill="#ff0000"/>
<rect x="1476" y="722" width="5" height="42" fill="#ff0000"/>
<rect x="1477" y="764" width="2" height="1" fill="#ff0000"/>
<rect x="1493" y="677" width="2" height="107" fill="#ff0000"/>
<rect x="1492" y="743" width="5" height="32" fill="#ff0000"/>
<rect x="1493" y="775" width="2" height="1" fill="#ff0000"/>
<rect x="1509" y="679" width="2" height="108" fill="#ff0000"/>
<rect x="1508" y="759" width="5" height="13" fill="#ff0000"/>
<rect x="1509" y="772" width="2" height="1" fill="#ff0000"/>
<rect x="1525" y="715" width="2" height="28" fill="#00ff00"/>
<rect x="1541" y="721" width="2" height="23" fill="#ff0000"/>
<rect x="1540" y="766" width="5" height="5" fill="#ff0000"/>
<rect x="1541" y="771" width="2" height="1" fill="#ff0000"/>
<rect x="1557" y="706" width="2" height="62" fill="#ff0000"/>
<rect x="1556" y="768" width="5" height="12" fill="#ff0000"/>
<rect x="1557" y="780" width="2" height="1" fill="#ff0000"/>
<rect x="1573" y="716" width="2" height="58" fill="#ff0000"/>
<rect x="1572" y="774" width="5" height="11" fill="#ff0000"/>
<rect x="1573" y="785" width="2" height="1" fill="#ff0000"/>
<rect x="1589" y="719" width="2" height="72" fill="#ff0000"/>
<rect x="1588" y="779" width="5" height="5" fill="#ff0000"/>
<rect x="1589" y="784" width="2" height="1" fill="#ff0000"/>
<rect x="1605" y="735" width="2" height="29" fill="#00ff00"/>
<rect x="1604" y="775" width="5" height="7" fill="#00ff00"/>
<rect x="1605" y="782" width="2" height="1" fill="#00ff00"/>
<rect x="1621" y="687" width="2" height="68" fill="#00ff00"/>
<rect x="1620" y="755" width="5" height="24" fill="#00ff00"/>
<rect x="1621" y="779" width="2" height="1" fill="#00ff00"/>
<rect x="1637" y="662" width="2" height="70" fill="#00ff00"/>
<rect x="1636" y="732" width="5" height="36" fill="#00ff00"/>
<rect x="1637" y="768" width="2" height="1" fill="#00ff00"/>
<rect x="1653" y="647" width="2" height="64" fill="#00ff00"/>
<rect x="1652" y="711" width="5" height="39" fill="#00ff00"/>
<rect x="1653" y="750" width="2" height="1" fill="#00ff00"/>
<rect x="1669" y="638" width="2" height="56" fill="#00ff00"/>
<rect x="1668" y="694" width="5" height="36" fill="#00ff00"/>
<rect x="1669" y="730" width="2" height="1" fill="#00ff00"/>
<rect x="1685" y="626" width="2" height="53" fill="#00ff00"/>
<rect x="1684" y="679" width="5" height="34" fill="#00ff00"/>
<rect x="1685" y="713" width="2" height="1" fill="#00ff00"/>
<rect x="1701" y="615" width="2" height="54" fill="#00ff00"/>
<rect x="1700" y="669" width="5" height="28" fill="#00ff00"/>
<rect x="1701" y="697" width="2" height="1" fill="#00ff00"/>
<rect x="1717" y="615" width="2" height="59" fill="#00ff00"/>
<rect x="1716" y="674" width="5" height="9" fill="#00ff00"/>
<rect x="1717" y="683" width="2" height="1" fill="#00ff00"/>
<rect x="1733" y="656" width="2" height="19" fill="#ff0000"/>
<rect x="1732" y="678" width="5" height="15" fill="#ff0000"/>
<rect x="1733" y="693" width="2" height="1" fill="#ff0000"/>
<rect x="1749" y="661" width="2" height="25" fill="#ff0000"/>
<rect x="1748" y="686" width="5" height="28" fill="#ff0000"/>
<rect x="1749" y="714" width="2" height="1" fill="#ff0000"/>
<rect x="1765" y="682" width="2" height="18" fill="#ff0000"/>
<rect x="1764" y="700" width="5" height="32" fill="#ff0000"/>
<rect x="1765" y="732" width="2" height="1" fill="#ff0000"/>
<rect x="1781" y="694" width="2" height="22" fill="#ff0000"/>
<rect x="1780" y="716" width="5" height="27" fill="#ff0000"/>
<rect x="1781" y="743" width="2" height="1" fill="#ff0000"/>
<rect x="1797" y="693" width="2" height="57" fill="#ff0000"/>
<rect x="1796" y="729" width="5" height="12" fill="#ff0000"/>
<rect x="1797" y="741" width="2" height="1" fill="#ff0000"/>
<rect x="1813" y="704" width="2" height="19" fill="#00ff00"/>
<rect x="1812" y="733" width="5" height="3" fill="#00ff00"/>
<rect x="1829" y="678" width="2" height="47" fill="#00ff00"/>
<rect x="1828" y="725" width="5" height="10" fill="#00ff00"/>
<rect x="1829" y="735" width="2" height="1" fill="#00ff00"/>
<rect x="1845" y="671" width="2" height="46" fill="#00ff00"/>
<rect x="1844" y="717" width="5" height="13" fill="#00ff00"/>
<rect x="1845" y="730" width="2" height="1" fill="#00ff00"/>
<rect x="1861" y="660" width="2" height="45" fill="#00ff00"/>
<rect x="1860" y="705" width="5" height="18" fill="#00ff00"/>
<rect x="1861" y="723" width="2" height="1" fill="#00ff00"/>
<rect x="1877" y="652" width="2" height="44" fill="#00ff00"/>
<rect x="1876" y="696" width="5" height="18" fill="#00ff00"/>
<rect x="1877" y="714" width="2" height="1" fill="#00ff00"/>
<rect x="1893" y="651" width="2" height="41" fill="#00ff00"/>
<rect x="1892" y="692" width="5" height="13" fill="#00ff00"/>
<rect x="1893" y="705" width="2" height="1" fill="#00ff00"/>
<rect x="1909" y="648" width="2" height="39" fill="#00ff00"/>
<rect x="1908" y="687" width="5" height="13" fill="#00ff00"/>
<rect x="1909" y="700" width="2" height="1" fill="#00ff00"/>
<rect x="1925" y="642" width="2" height="35" fill="#00ff00"/>
<rect x="1924" y="677" width="5" height="17" fill="#00ff00"/>
<rect x="1925" y="694" width="2" height="1" fill="#00ff00"/>
<rect x="1941" y="637" width="2" height="34" fill="#00ff00"/>
<rect x="1940" y="671" width="5" height="15" fill="#00ff00"/>
<rect x="1941" y="686" width="2" height="1" fill="#00ff00"/>
<rect x="1957" y="629" width="2" height="33" fill="#00ff00"/>
<rect x="1956" y="662" width="5" height="17" fill="#00ff00"/>
<rect x="1957" y="679" width="2" height="1" fill="#00ff00"/>
<rect x="1973" y="620" width="2" height="33" fill="#00ff00"/>
<rect x="1972" y="653" width="5" height="18" fill="#00ff00"/>
<rect x="1973" y="671" width="2" height="1" fill="#00ff00"/>
<rect x="1989" y="612" width="2" height="36" fill="#00ff00"/>
<rect x="1988" y="648" width="5" height="13" fill="#00ff00"/>
<rect x="1989" y="661" width="2" height="1" fill="#00ff00"/>
<rect x="2005" y="599" width="2" height="42" fill="#00ff00"/>
<rect x="2004" y="641" width="5" height="15" fill="#00ff00"/>
<rect x="2005" y="656" width="2" height="1" fill="#00ff00"/>
<rect x="2021" y="582" width="2" height="43" fill="#00ff00"/>
<rect x="2020" y="625" width="5" height="24" fill="#00ff00"/>
<rect x="2021" y="649" width="2" height="1" fill="#00ff00"/>
<rect x="2037" y="554" width="2" height="46" fill="#00ff00"/>
<rect x="2036" y="600" width="5" height="37" fill="#00ff00"/>
<rect x="2037" y="637" width="2" height="1" fill="#00ff00"/>
<rect x="2053" y="529" width="2" height="47" fill="#00ff00"/>
<rect x="2052" y="576" width="5" height="43" fill="#00ff00"/>
<rect x="2053" y="619" width="2" height="1" fill="#00ff00"/>
<rect x="2069" y="511" width="2" height="45" fill="#00ff00"/>
<rect x="2068" y="556" width="5" height="41" fill="#00ff00"/>
<rect x="2069" y="597" width="2" height="1" fill="#00ff00"/>
<rect x="2085" y="496" width="2" height="46" fill="#00ff00"/>
<rect x="2084" y="542" width="5" height="36" fill="#00ff00"/>
<rect x="2085" y="578" width="2" height="1" fill="#00ff00"/>
<rect x="2101" y="479" width="2" height="53" fill="#00ff00"/>
<rect x="2100" y="532" width="5" height="29" fill="#00ff00"/>
<rect x="2101" y="561" width="2" height="1" fill="#00ff00"/>
<rect x="2117" y="471" width="2" height="59" fill="#00ff00"/>
<rect x="2116" y="530" width="5" height="17" fill="#00ff00"/>
<rect x="2117" y="547" width="2" height="1" fill="#00ff00"/>
<rect x="2133" y="462" width="2" height="62" fill="#00ff00"/>
<rect x="2132" y="524" width="5" height="17" fill="#00ff00"/>
<rect x="2133" y="541" width="2" height="1" fill="#00ff00"/>
<rect x="2149" y="450" width="2" height="67" fill="#00ff00"/>
<rect x="2148" y="517" width="5" height="16" fill="#00ff00"/>
<rect x="2149" y="533" width="2" height="1" fill="#00ff00"/>
<rect x="2165" y="488" width="2" height="22" fill="#ff0000"/>
<rect x="2164" y="524" width="5" height="7" fill="#ff0000"/>
<rect x="2165" y="531" width="2" height="1" fill="#ff0000"/>
<rect x="2181" y="493" width="2" height="35" fill="#ff0000"/>
<rect x="2180" y="528" width="5" height="40" fill="#ff0000"/>
<rect x="2181" y="568" width="2" height="1" fill="#ff0000"/>
<rect x="2197" y="530" width="2" height="17" fill="#ff0000"/>
<rect x="2196" y="547" width="5" height="59" fill="#ff0000"/>
<rect x="2197" y="606" width="2" height="1" fill="#ff0000"/>
<rect x="2213" y="521" width="2" height="110" fill="#ff0000"/>
<rect x="2212" y="576" width="5" height="39" fill="#ff0000"/>
<rect x="2213" y="615" width="2" height="1" fill="#ff0000"/>
<rect x="2229" y="523" width="2" height="58" fill="#00ff00"/>
<rect x="2228" y="590" width="5" height="6" fill="#00ff00"/>
<rect x="2229" y="596" width="2" height="1" fill="#00ff00"/>
<rect x="2245" y="450" width="2" height="149" fill="#00ff00"/>
<rect x="2244" y="553" width="5" height="40" fill="#00ff00"/>
<rect x="2245" y="593" width="2" height="1" fill="#00ff00"/>
</g>
</g>
<rect x="5" y="8" width="2288" height="1" fill="#000"/>
<rect x="5" y="8" width="1" height="1095" fill="#000"/>
<rect x="2292" y="8" width="1" height="1095" fill="#000"/>
<rect x="5" y="1102" width="2288" height="1" fill="#000"/>
<rect x="2292" y="343" width="1" height="1" fill="#fff"/>
<rect x="2293" y="14" width="2" height="1" fill="#000"/>
<text transform="translate(2297.6 18.0) scale(0.926 1)">0.64935</text>
<rect x="2293" y="47" width="2" height="1" fill="#000"/>
<text transform="translate(2297.6 51.0) scale(0.926 1)">0.64900</text>
<rect x="2293" y="84" width="2" height="1" fill="#000"/>
<text transform="translate(2297.6 88.0) scale(0.926 1)">0.64860</text>
<rect x="2293" y="117" width="2" height="1" fill="#000"/>
<text transform="translate(2297.6 121.0) scale(0.926 1)">0.64825</text>
<rect x="2293" y="154" width="2" height="1" fill="#000"/>
<text transform="translate(2297.6 158.0) scale(0.926 1)">0.64785</text>
<rect x="2293" y="187" width="2" height="1" fill="#000"/>
<text transform="translate(2297.6 191.0) scale(0.926 1)">0.64750</text>
<rect x="2293" y="224" width="2" height="1" fill="#000"/>
<text transform="translate(2297.6 228.0) scale(0.926 1)">0.64710</text>
<rect x="2293" y="257" width="2" height="1" fill="#000"/>
<text transform="translate(2297.6 261.0) scale(0.926 1)">0.64675</text>
<rect x="2293" y="294" width="2" height="1" fill="#000"/>
<text transform="translate(2297.6 298.0) scale(0.926 1)">0.64635</text>
<rect x="2293" y="327" width="2" height="1" fill="#000"/>
<text transform="translate(2297.6 331.0) scale(0.926 1)">0.64600</text>
<rect x="2293" y="364" width="2" height="1" fill="#000"/>
<text transform="translate(2297.6 368.0) scale(0.926 1)">0.64560</text>
<rect x="2293" y="397" width="2" height="1" fill="#000"/>
<text transform="translate(2297.6 401.0) scale(0.926 1)">0.64525</text>
<rect x="2293" y="434" width="2" height="1" fill="#000"/>
<text transform="translate(2297.6 438.0) scale(0.926 1)">0.64485</text>
<rect x="2293" y="467" width="2" height="1" fill="#000"/>
<text transform="translate(2297.6 471.0) scale(0.926 1)">0.64450</text>
<rect x="2293" y="504" width="2" height="1" fill="#000"/>
<text transform="translate(2297.6 508.0) scale(0.926 1)">0.64410</text>
<rect x="2293" y="537" width="2" height="1" fill="#000"/>
<text transform="translate(2297.6 541.0) scale(0.926 1)">0.64375</text>
<rect x="2293" y="574" width="2" height="1" fill="#000"/>
<text transform="translate(2297.6 578.0) scale(0.926 1)">0.64335</text>
<rect x="2293" y="607" width="2" height="1" fill="#000"/>
<text transform="translate(2297.6 611.0) scale(0.926 1)">0.64300</text>
<rect x="2293" y="644" width="2" height="1" fill="#000"/>
<text transform="translate(2297.6 648.0) scale(0.926 1)">0.64260</text>
<rect x="2293" y="677" width="2" height="1" fill="#000"/>
<text transform="translate(2297.6 681.0) scale(0.926 1)">0.64225</text>
<rect x="2293" y="714" width="2" height="1" fill="#000"/>
<text transform="translate(2297.6 718.0) scale(0.926 1)">0.64185</text>
<rect x="2293" y="747" width="2" height="1" fill="#000"/>
<text transform="translate(2297.6 751.0) scale(0.926 1)">0.64150</text>
<rect x="2293" y="784" width="2" height="1" fill="#000"/>
<text transform="translate(2297.6 788.0) scale(0.926 1)">0.64110</text>
<rect x="2293" y="817" width="2" height="1" fill="#000"/>
<text transform="translate(2297.6 821.0) scale(0.926 1)">0.64075</text>
<rect x="2293" y="854" width="2" height="1" fill="#000"/>
<text transform="translate(2297.6 858.0) scale(0.926 1)">0.64035</text>
<rect x="2293" y="887" width="2" height="1" fill="#000"/>
<text transform="translate(2297.6 891.0) scale(0.926 1)">0.64000</text>
<rect x="2293" y="924" width="2" height="1" fill="#000"/>
<text transform="translate(2297.6 928.0) scale(0.926 1)">0.63960</text>
<rect x="2293" y="957" width="2" height="1" fill="#000"/>
<text transform="translate(2297.6 961.0) scale(0.926 1)">0.63925</text>
<rect x="2293" y="994" width="2" height="1" fill="#000"/>
<text transform="translate(2297.6 998.0) scale(0.926 1)">0.63885</text>
<rect x="2293" y="1027" width="2" height="1" fill="#000"/>
<text transform="translate(2297.6 1031.0) scale(0.926 1)">0.63850</text>
<rect x="2293" y="1064" width="2" height="1" fill="#000"/>
<text transform="translate(2297.6 1068.0) scale(0.926 1)">0.63810</text>
<rect x="2293" y="1097" width="2" height="1" fill="#000"/>
<text transform="translate(2297.6 1101.0) scale(0.926 1)">0.63775</text>
<rect x="2294" y="338" width="39" height="11" fill="#000"/>
<text transform="translate(2297.6 347) scale(0.926 1)" style="fill:#fff;stroke:#fff">0.64583</text>
<rect x="6" y="1103" width="1" height="3" fill="#000"/>
<text transform="translate(5.0 1115) scale(0.948 1)">21 Aug 2023</text>
<rect x="70" y="1103" width="1" height="3" fill="#000"/>
<text transform="translate(69.0 1115) scale(0.948 1)">22 Aug 03:00</text>
<rect x="134" y="1103" width="1" height="3" fill="#000"/>
<text transform="translate(133.0 1115) scale(0.948 1)">22 Aug 07:00</text>
<rect x="198" y="1103" width="1" height="3" fill="#000"/>
<text transform="translate(197.0 1115) scale(0.948 1)">22 Aug 11:00</text>
<rect x="262" y="1103" width="1" height="3" fill="#000"/>
<text transform="translate(261.0 1115) scale(0.948 1)">22 Aug 15:00</text>
<rect x="326" y="1103" width="1" height="3" fill="#000"/>
<text transform="translate(325.0 1115) scale(0.948 1)">22 Aug 19:00</text>
<rect x="390" y="1103" width="1" height="3" fill="#000"/>
<text transform="translate(389.0 1115) scale(0.948 1)">22 Aug 23:00</text>
<rect x="454" y="1103" width="1" height="3" fill="#000"/>
<text transform="translate(453.0 1115) scale(0.948 1)">23 Aug 03:00</text>
<rect x="518" y="1103" width="1" height="3" fill="#000"/>
<text transform="translate(517.0 1115) scale(0.948 1)">23 Aug 07:00</text>
<rect x="582" y="1103" width="1" height="3" fill="#000"/>
<text transform="translate(581.0 1115) scale(0.948 1)">23 Aug 11:00</text>
<rect x="646" y="1103" width="1" height="3" fill="#000"/>
<text transform="translate(645.0 1115) scale(0.948 1)">23 Aug 15:00</text>
<rect x="710" y="1103" width="1" height="3" fill="#000"/>
<text transform="translate(709.0 1115) scale(0.948 1)">23 Aug 19:00</text>
<rect x="774" y="1103" width="1" height="3" fill="#000"/>
<text transform="translate(773.0 1115) scale(0.948 1)">23 Aug 23:00</text>
<rect x="838" y="1103" width="1" height="3" fill="#000"/>
<text transform="translate(837.0 1115) scale(0.948 1)">24 Aug 03:00</text>
<rect x="902" y="1103" width="1" height="3" fill="#000"/>
<text transform="translate(901.0 1115) scale(0.948 1)">24 Aug 07:00</text>
<rect x="966" y="1103" width="1" height="3" fill="#000"/>
<text transform="translate(965.0 1115) scale(0.948 1)">24 Aug 11:00</text>
<rect x="1030" y="1103" width="1" height="3" fill="#000"/>
<text transform="translate(1029.0 1115) scale(0.948 1)">24 Aug 15:00</text>
<rect x="1094" y="1103" width="1" height="3" fill="#000"/>
<text transform="translate(1093.0 1115) scale(0.948 1)">24 Aug 19:00</text>
<rect x="1158" y="1103" width="1" height="3" fill="#000"/>
<text transform="translate(1157.0 1115) scale(0.948 1)">24 Aug 23:00</text>
<rect x="1222" y="1103" width="1" height="3" fill="#000"/>
<text transform="translate(1221.0 1115) scale(0.948 1)">25 Aug 03:00</text>
<rect x="1286" y="1103" width="1" height="3" fill="#000"/>
<text transform="translate(1285.0 1115) scale(0.948 1)">25 Aug 07:00</text>
<rect x="1350" y="1103" width="1" height="3" fill="#000"/>
<text transform="translate(1349.0 1115) scale(0.948 1)">25 Aug 11:00</text>
<rect x="1414" y="1103" width="1" height="3" fill="#000"/>
<text transform="translate(1413.0 1115) scale(0.948 1)">25 Aug 15:00</text>
<rect x="1478" y="1103" width="1" height="3" fill="#000"/>
<text transform="translate(1477.0 1115) scale(0.948 1)">25 Aug 19:00</text>
<rect x="1542" y="1103" width="1" height="3" fill="#000"/>
<text transform="translate(1541.0 1115) scale(0.948 1)">25 Aug 23:00</text>
<rect x="1606" y="1103" width="1" height="3" fill="#000"/>
<text transform="translate(1605.0 1115) scale(0.948 1)">28 Aug 03:00</text>
<rect x="1670" y="1103" width="1" height="3" fill="#000"/>
<text transform="translate(1669.0 1115) scale(0.948 1)">28 Aug 07:00</text>
<rect x="1734" y="1103" width="1" height="3" fill="#000"/>
<text transform="translate(1733.0 1115) scale(0.948 1)">28 Aug 11:00</text>
<rect x="1798" y="1103" width="1" height="3" fill="#000"/>
<text transform="translate(1797.0 1115) scale(0.948 1)">28 Aug 15:00</text>
<rect x="1862" y="1103" width="1" height="3" fill="#000"/>
<text transform="translate(1861.0 1115) scale(0.948 1)">28 Aug 19:00</text>
<rect x="1926" y="1103" width="1" height="3" fill="#000"/>
<text transform="translate(1925.0 1115) scale(0.948 1)">28 Aug 23:00</text>
<rect x="1990" y="1103" width="1" height="3" fill="#000"/>
<text transform="translate(1989.0 1115) scale(0.948 1)">29 Aug 03:00</text>
<rect x="2054" y="1103" width="1" height="3" fill="#000"/>
<text transform="translate(2053.0 1115) scale(0.948 1)">29 Aug 07:00</text>
<rect x="2118" y="1103" width="1" height="3" fill="#000"/>
<text transform="translate(2117.0 1115) scale(0.948 1)">29 Aug 11:00</text>
<rect x="2182" y="1103" width="1" height="3" fill="#000"/>
<text transform="translate(2181.0 1115) scale(0.948 1)">29 Aug 15:00</text>
<rect x="2246" y="1103" width="1" height="3" fill="#000"/>
<text transform="translate(2245.0 1115) scale(0.948 1)">29 Aug 19:00</text>
<rect x="9" y="15" width="7" height="1" fill="#000"/>
<rect x="10" y="16" width="5" height="1" fill="#000"/>
<rect x="11" y="17" width="3" height="1" fill="#000"/>
<rect x="12" y="18" width="1" height="1" fill="#000"/>
<text transform="translate(21.3 20) scale(0.946 1)">AUDUSD,H1</text>
<text transform="translate(82.9 20) scale(0.912 1)">0.64587 0.64612 0.64534 0.64583</text>
<text class="wm" style="font-size:20.5px" x="9.3" y="1098.2">©</text>
<text class="wm" transform="translate(34.4 1096.5) scale(0.9615 1)">ForexMT4Indicators.com</text>
</svg></body></html>
